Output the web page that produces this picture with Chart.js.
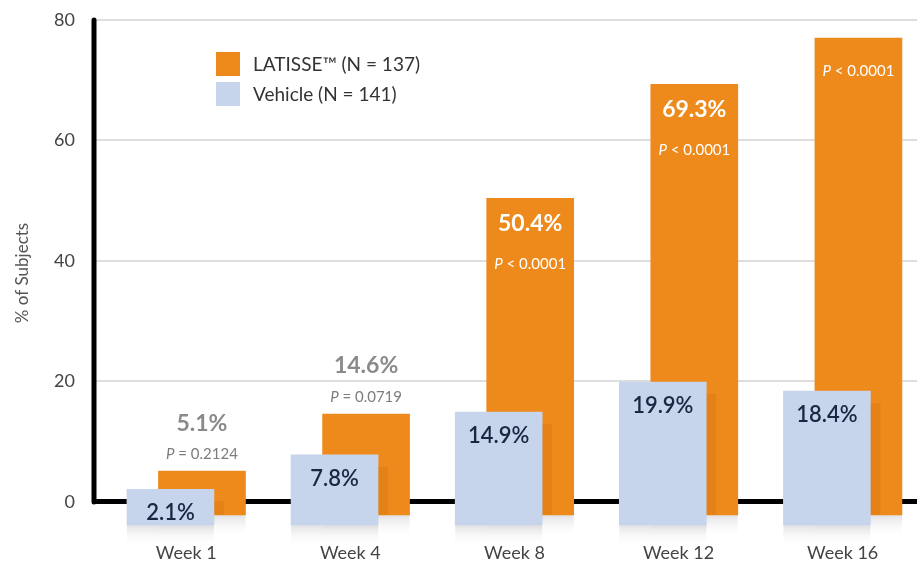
<!DOCTYPE html>
<html><head><meta charset="utf-8">
<script src="https://cdn.jsdelivr.net/npm/chart.js@4.4.1/dist/chart.umd.min.js"></script>
<style>html,body{margin:0;padding:0;background:#fff;overflow:hidden}#wrap{width:917px;height:566px}</style>
</head><body><div id="wrap"><canvas id="c" width="917" height="566"></canvas></div>
<script>
const weeks = ['Week 1', 'Week 4', 'Week 8', 'Week 12', 'Week 16'];
const latisseValues = [5.1, 14.6, 50.4, 69.3, 77];
const vehicleValues = [2.1, 7.8, 14.9, 19.9, 18.4];
const latissePctLabels = ['5.1%', '14.6%', '50.4%', '69.3%', ''];
const pSigns = ['=', '=', '<', '<', '<'];
const pValues = ['0.2124', '0.0719', '0.0001', '0.0001', '0.0001'];
const yTicks = [0, 20, 40, 60, 80];
const seriesNames = ['LATISSE\u2122 (N = 137)', 'Vehicle (N = 141)'];

const ORANGE = '#ee8a1c';
const BLUE = '#c6d4ec';
const ORANGE_BASE = -2.15;   // visual drop below the zero line
const VEHICLE_BASE = -3.8;
const PAIR_SHIFT = 0.096;    // horizontal overlap offset of the pair
const FONT = 'Lato, "Open Sans", sans-serif';

const latisseData = latisseValues.map((v, i) => ({ x: i + PAIR_SHIFT, y: [ORANGE_BASE, v] }));
const vehicleData = vehicleValues.map((v, i) => ({ x: i - PAIR_SHIFT, y: [VEHICLE_BASE, v] }));

function barBox(bar) {
  const p = bar.getProps(['x', 'y', 'base', 'width'], true);
  return { left: p.x - p.width / 2, right: p.x + p.width / 2, top: Math.min(p.y, p.base), bottom: Math.max(p.y, p.base), cx: p.x };
}

const axisLinePlugin = {
  id: 'axisLine',
  beforeDatasetsDraw(chart) {
    const { ctx, scales: { y }, chartArea } = chart;
    ctx.save();
    [0, 1].forEach(d => {
      chart.getDatasetMeta(d).data.forEach(bar => {
        const b = barBox(bar);
        const g = ctx.createLinearGradient(0, b.bottom, 0, b.bottom + 22);
        g.addColorStop(0, 'rgba(200,200,205,0.55)');
        g.addColorStop(1, 'rgba(255,255,255,0)');
        ctx.fillStyle = g;
        ctx.fillRect(b.left, b.bottom, b.right - b.left, 22);
      });
    });
    ctx.strokeStyle = '#000';
    ctx.lineWidth = 5;
    ctx.lineCap = 'round';
    ctx.beginPath();
    ctx.moveTo(chartArea.left + 1, y.getPixelForValue(yTicks[yTicks.length - 1]));
    ctx.lineTo(chartArea.left + 1, y.getPixelForValue(0));
    ctx.stroke();
    ctx.restore();
  }
};

function drawP(ctx, cx, cy, sign, val, color) {
  const f1 = 'italic 15px ' + FONT, f2 = '15px ' + FONT;
  ctx.font = f1; const w1 = ctx.measureText('P').width;
  const rest = ' ' + sign + ' ' + val;
  ctx.font = f2; const w2 = ctx.measureText(rest).width;
  const x0 = cx - (w1 + w2) / 2;
  ctx.fillStyle = color;
  ctx.textAlign = 'left';
  ctx.font = f1; ctx.fillText('P', x0, cy);
  ctx.font = f2; ctx.fillText(rest, x0 + w1, cy);
}

const labelPlugin = {
  id: 'barLabels',
  afterDatasetsDraw(chart) {
    const ctx = chart.ctx;
    const om = chart.getDatasetMeta(0), vm = chart.getDatasetMeta(1);
    ctx.save();
    vm.data.forEach((bar, i) => {
      const v = barBox(bar), o = barBox(om.data[i]);
      const top = Math.max(v.top + 12, o.top);
      if (top < o.bottom) {
        ctx.fillStyle = 'rgba(160,80,0,0.13)';
        ctx.fillRect(v.right, top, 10, o.bottom - top);
      }
    });
    ctx.textBaseline = 'middle';
    om.data.forEach((bar, i) => {
      const b = barBox(bar);
      const inside = latisseValues[i] > 30;
      const col = inside ? '#ffffff' : '#8a8a8a';
      let pctY, pY;
      if (inside) { pctY = b.top + 25; pY = b.top + 66; }
      else { pctY = b.top - 48; pY = b.top - 17; }
      if (!latissePctLabels[i]) pY = b.top + 33;
      if (latissePctLabels[i]) {
        ctx.font = 'bold 23px ' + FONT;
        ctx.textAlign = 'center';
        ctx.fillStyle = col;
        ctx.fillText(latissePctLabels[i], b.cx, pctY);
      }
      drawP(ctx, b.cx, pY, pSigns[i], pValues[i], inside ? '#ffffff' : '#7d7d7d');
    });
    vm.data.forEach((bar, i) => {
      const b = barBox(bar);
      ctx.font = '600 22px ' + FONT;
      ctx.textAlign = 'center';
      ctx.fillStyle = '#1c2640';
      ctx.fillText(vehicleValues[i].toFixed(1) + '%', b.cx, b.top + 24);
    });
    ctx.restore();
  }
};

const legendPlugin = {
  id: 'customLegend',
  afterDraw(chart) {
    const { ctx, chartArea } = chart;
    const x = chartArea.left + 123, y = chartArea.top + 32;
    const cols = [ORANGE, BLUE];
    ctx.save();
    seriesNames.forEach((name, i) => {
      const yy = y + i * 30;
      ctx.fillStyle = cols[i];
      ctx.fillRect(x, yy, 24, 24);
      ctx.fillStyle = '#333';
      ctx.font = '19px ' + FONT;
      ctx.textAlign = 'left';
      ctx.textBaseline = 'middle';
      ctx.fillText(name, x + 37, yy + 13);
    });
    ctx.restore();
  }
};

new Chart(document.getElementById('c'), {
  type: 'bar',
  data: {
    datasets: [
      { label: seriesNames[0], data: latisseData, backgroundColor: ORANGE, order: 1, grouped: false, barThickness: 87 },
      { label: seriesNames[1], data: vehicleData, backgroundColor: BLUE, order: 0, grouped: false, barThickness: 87 }
    ]
  },
  options: {
    responsive: false,
    animation: false,
    devicePixelRatio: 1,
    layout: { padding: { top: 20, right: 0, bottom: 2, left: 0 } },
    plugins: { legend: { display: false }, tooltip: { enabled: false } },
    scales: {
      x: {
        type: 'linear',
        offset: false,
        min: -0.568, max: 4.453,
        afterBuildTicks: s => { s.ticks = weeks.map((_, i) => ({ value: i })); },
        afterFit: s => { s.height = 38; s.paddingLeft = 0; s.paddingRight = 0; s.paddingTop = 0; s.paddingBottom = 0; },
        grid: { display: false, drawTicks: false },
        border: { display: false },
        ticks: {
          callback: v => weeks[v],
          autoSkip: false, maxRotation: 0,
          color: '#444', font: { family: FONT, size: 18 }, padding: 16
        }
      },
      y: {
        min: -4, max: 80,
        afterBuildTicks: s => { s.ticks = yTicks.map(v => ({ value: v })); },
        afterFit: s => { s.width = 93; s.paddingTop = 0; s.paddingBottom = 0; },
        grid: {
          drawTicks: false,
          color: c => c.tick && c.tick.value === 0 ? '#000' : '#dedede',
          lineWidth: c => c.tick && c.tick.value === 0 ? 5 : 2
        },
        border: { display: false },
        ticks: { color: '#444', font: { family: FONT, size: 18 }, padding: 18 },
        title: { display: true, text: '% of Subjects', color: '#555', font: { family: FONT, size: 17 }, padding: { top: 12, bottom: 4 } }
      }
    }
  },
  plugins: [axisLinePlugin, labelPlugin, legendPlugin]
});
</script></body></html>
